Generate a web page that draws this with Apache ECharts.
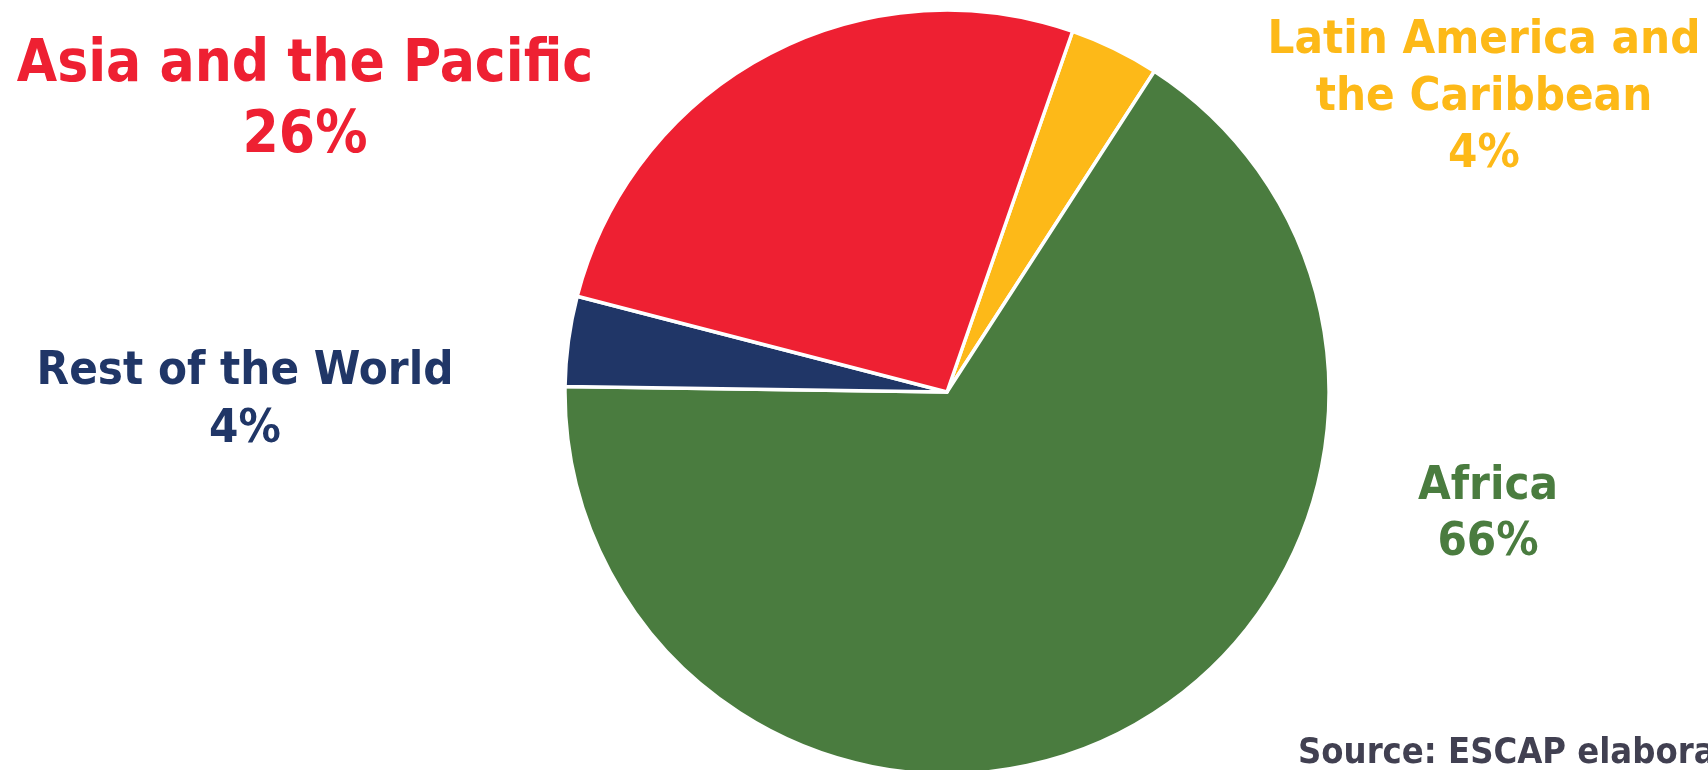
<!DOCTYPE html>
<html>
<head>
<meta charset="utf-8">
<style>
  html, body { margin: 0; padding: 0; background: #fff; }
  #chart { width: 1708px; height: 770px; }
</style>
<script src="https://cdn.jsdelivr.net/npm/echarts@6/dist/echarts.min.js"></script>
</head>
<body>
<div id="chart"></div>
<script>
// data, clockwise from the slice that starts just right of 12 o'clock
const regions = ['Latin America and the Caribbean', 'Africa', 'Rest of the World', 'Asia and the Pacific'];
const shares = [3.8, 66.1, 3.8, 26.3];
const colors = ['#FDB918', '#4A7C3F', '#203667', '#EE2032'];
const sourceNote = 'Source: ESCAP elaboration';

const FONT = '"DejaVu Sans Condensed", "DejaVu Sans", sans-serif';

// where each label sits (px) and how big
const labelPos = [
    { x: 1484, y: 98, size: 47, lh: 57 },
    { x: 1488, y: 515, size: 47, lh: 56 },
    { x: 245, y: 401, size: 47, lh: 58 },
    { x: 305, y: 101, size: 58, lh: 71 }
];

// line breaks as in the original
function labelName(name) {
    if (name === 'Latin America and the Caribbean') return 'Latin America and\nthe Caribbean';
    return name;
}

const chart = echarts.init(document.getElementById('chart'));

chart.setOption({
    animation: false,
    title: {
        text: sourceNote,
        left: 1293,
        top: 731,
        textStyle: {
            fontFamily: FONT,
            fontWeight: 'bold',
            fontSize: 36,
            color: '#414051'
        }
    },
    series: [{
        type: 'pie',
        center: [947, 392],
        radius: 382,
        startAngle: 70.8,
        clockwise: true,
        percentPrecision: 0,
        itemStyle: { borderColor: '#fff', borderWidth: 3.5 },
        labelLine: { show: false },
        emphasis: { disabled: true },
        label: {
            show: true,
            position: 'outside',
            fontFamily: FONT,
            fontWeight: 'bold',
            align: 'center',
            formatter: p => labelName(p.name) + '\n' + p.percent + '%'
        },
        labelLayout: p => ({
            x: labelPos[p.dataIndex].x,
            y: labelPos[p.dataIndex].y,
            align: 'center',
            verticalAlign: 'middle'
        }),
        data: regions.map((r, i) => ({
            name: r,
            value: shares[i],
            itemStyle: { color: colors[i] },
            label: {
                color: colors[i],
                fontSize: labelPos[i].size,
                lineHeight: labelPos[i].lh
            }
        }))
    }]
});
</script>
</body>
</html>
